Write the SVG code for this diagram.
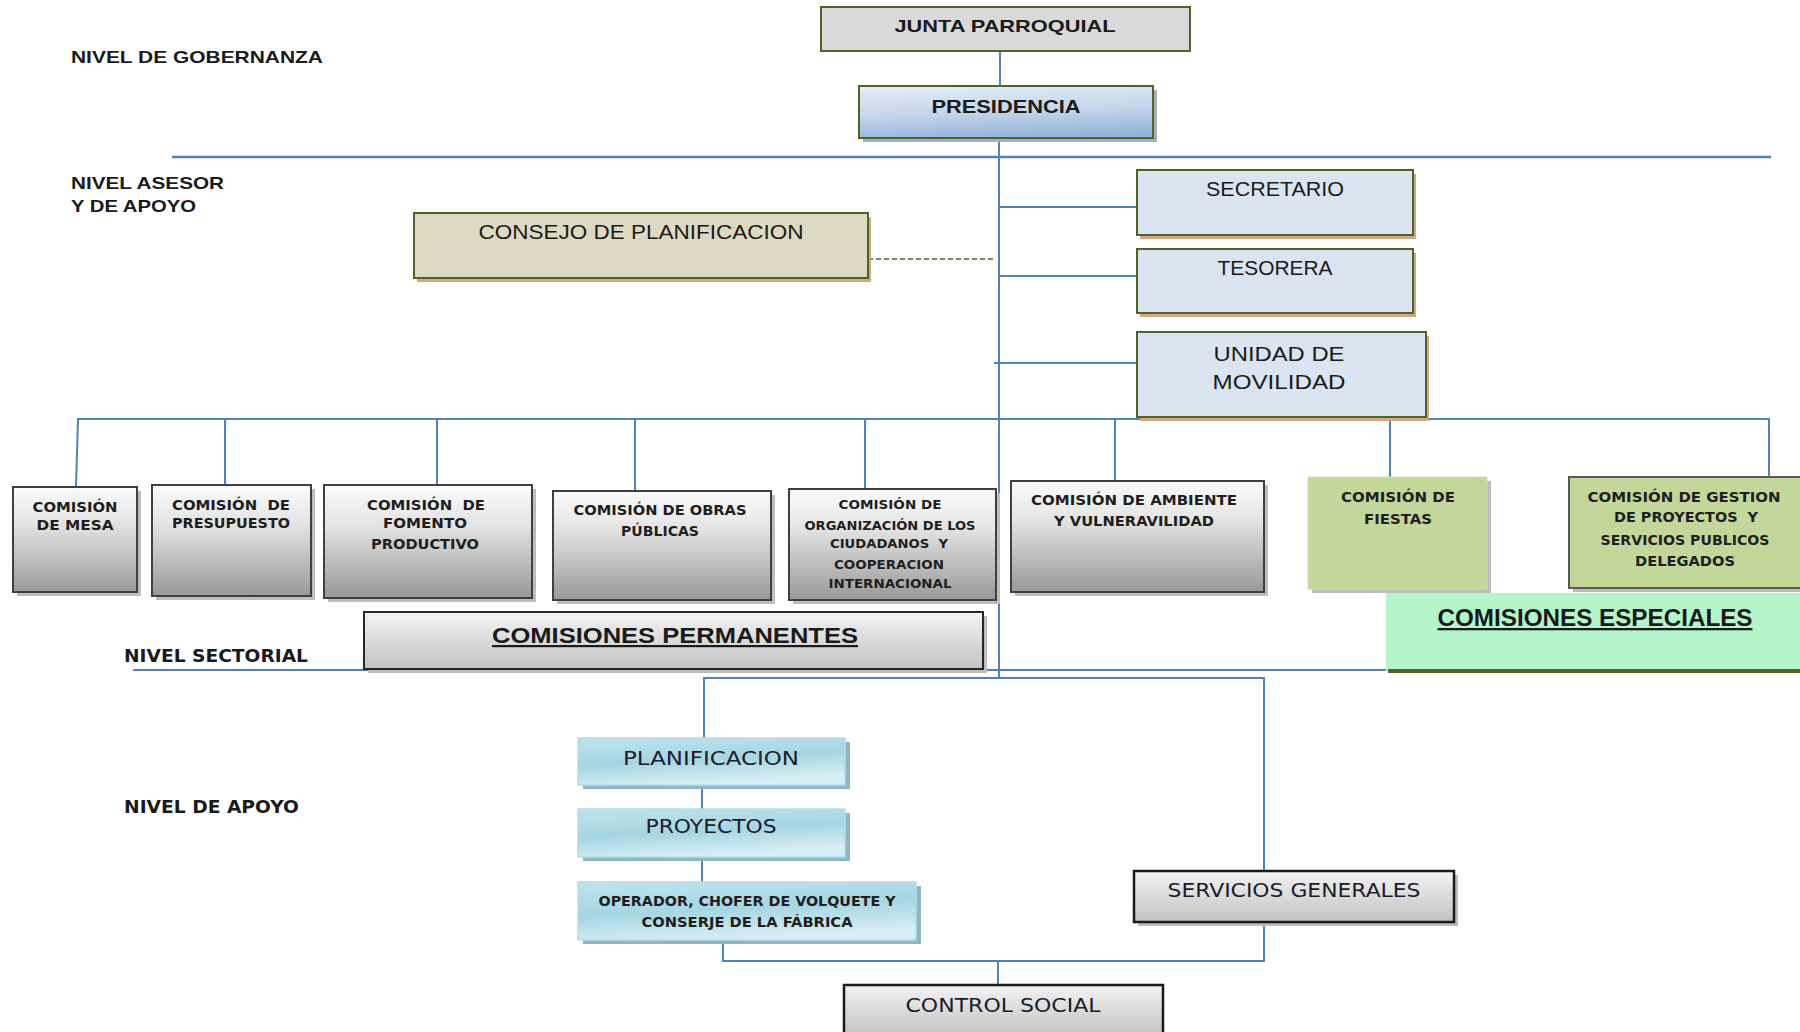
<svg xmlns="http://www.w3.org/2000/svg" width="1800" height="1032" viewBox="0 0 1800 1032">
<defs>
<linearGradient id="gGray" x1="0" y1="0" x2="0" y2="1"><stop offset="0" stop-color="#fbfbfb"/><stop offset="0.35" stop-color="#e4e4e4"/><stop offset="1" stop-color="#989898"/></linearGradient>
<linearGradient id="gLight" x1="0" y1="0" x2="0" y2="1"><stop offset="0" stop-color="#f4f4f4"/><stop offset="1" stop-color="#c2c2c2"/></linearGradient>
<linearGradient id="gPres" x1="0.3" y1="0" x2="0.5" y2="1"><stop offset="0" stop-color="#e3ebf6"/><stop offset="0.5" stop-color="#c4d6eb"/><stop offset="1" stop-color="#93b3d9"/></linearGradient>
<linearGradient id="gCyan" x1="0" y1="0" x2="0.3" y2="1"><stop offset="0" stop-color="#bfe3ec"/><stop offset="0.55" stop-color="#a6d6e3"/><stop offset="1" stop-color="#d6edf3"/></linearGradient>
<style>
.ln{fill:none;stroke:#4f81bd;stroke-width:2}
.dash{fill:none;stroke:#4f6228;stroke-width:1.5;stroke-dasharray:5 3}
.olive{stroke:#4f6228;stroke-width:2}
.gbox{fill:url(#gGray);stroke:#404040;stroke-width:2}
.shG{fill:#bdbdbd}
.shB{fill:#d2a784}
.shC{fill:#8fb6c3}
.lvl{font-family:"Liberation Sans",Arial,sans-serif;font-weight:bold;font-size:17px;fill:#1a1a1a}
.lvl2{font-family:"DejaVu Sans",Verdana,sans-serif;font-weight:bold;font-size:17px;fill:#1a1a1a}
.cal{font-family:"Liberation Sans",Arial,sans-serif;font-size:20px;fill:#1a1a1a;text-anchor:middle}
.calb{font-family:"Liberation Sans",Arial,sans-serif;font-weight:bold;fill:#1a1a1a;text-anchor:middle}
.sm{font-family:"DejaVu Sans",Verdana,sans-serif;font-weight:bold;font-size:14px;fill:#1e1e1e;text-anchor:middle;white-space:pre}
.xs{font-family:"DejaVu Sans",Verdana,sans-serif;font-weight:bold;font-size:11.5px;fill:#1e1e1e;text-anchor:middle;white-space:pre}
.ver{font-family:"DejaVu Sans",Verdana,sans-serif;font-size:20px;fill:#1e1a2e;text-anchor:middle}
</style>
</defs>
<rect width="1800" height="1032" fill="#ffffff"/>

<g id="labels">
<text class="lvl" x="71" y="63" textLength="252" lengthAdjust="spacingAndGlyphs">NIVEL DE GOBERNANZA</text>
<text class="lvl" x="71" y="189" textLength="153" lengthAdjust="spacingAndGlyphs">NIVEL ASESOR</text>
<text class="lvl" x="71" y="212" textLength="125" lengthAdjust="spacingAndGlyphs">Y DE APOYO</text>
<text class="lvl2" x="124" y="662" textLength="184" lengthAdjust="spacingAndGlyphs">NIVEL SECTORIAL</text>
<text class="lvl2" x="124" y="813" textLength="175" lengthAdjust="spacingAndGlyphs">NIVEL DE APOYO</text>
</g>

<g id="connectors">
<path class="ln" d="M1000 51 V86"/>
<path class="ln" d="M999 138 V678"/>
<path class="ln" d="M172 157 H1771" style="stroke-width:2.5"/>
<path class="ln" d="M999 207 H1137"/>
<path class="ln" d="M999 276 H1137"/>
<path class="ln" d="M994 363 H1137"/>
<path class="dash" d="M868 259 H996"/>
<path class="ln" d="M77 419 H1769 V477"/>
<path class="ln" d="M78 419 L76 487"/>
<path class="ln" d="M225 419 V485"/>
<path class="ln" d="M437 419 V485"/>
<path class="ln" d="M635 419 V491"/>
<path class="ln" d="M865 419 V489"/>
<path class="ln" d="M1115 419 V481"/>
<path class="ln" d="M1390 419 V477"/>
<path class="ln" d="M133 670 H1386"/>
<path class="ln" d="M704 738 V678 H1264 V871"/>
<path class="ln" d="M702 785 V809"/>
<path class="ln" d="M702 857 V882"/>
<path class="ln" d="M723 940 V961 H1264 V922"/>
<path class="ln" d="M998 961 V985"/>
</g>

<g id="junta">
<rect x="821" y="7" width="369" height="44" fill="#d9d9d9" class="olive"/>
<text class="calb" x="1005" y="32" font-size="17" textLength="221" lengthAdjust="spacingAndGlyphs">JUNTA PARROQUIAL</text>
</g>
<g id="presidencia">
<rect x="863" y="90" width="294" height="52" fill="#a3afc0"/>
<rect x="859" y="86" width="294" height="52" fill="url(#gPres)" class="olive"/>
<text class="calb" x="1006" y="113" font-size="19" textLength="149" lengthAdjust="spacingAndGlyphs">PRESIDENCIA</text>
</g>
<g id="consejo">
<rect x="417" y="217" width="454" height="65" class="shB"/>
<rect x="414" y="213" width="454" height="65" fill="#ddd9c3" class="olive"/>
<text class="cal" x="641" y="239" textLength="325" lengthAdjust="spacingAndGlyphs">CONSEJO DE PLANIFICACION</text>
</g>
<g id="secretario">
<rect x="1140" y="174" width="276" height="65" class="shB"/>
<rect x="1137" y="170" width="276" height="65" fill="#dbe5f1" class="olive"/>
<text class="cal" x="1275" y="196" textLength="138" lengthAdjust="spacingAndGlyphs">SECRETARIO</text>
</g>
<g id="tesorera">
<rect x="1140" y="253" width="276" height="64" class="shB"/>
<rect x="1137" y="249" width="276" height="64" fill="#dbe5f1" class="olive"/>
<text class="cal" x="1275" y="275" textLength="115" lengthAdjust="spacingAndGlyphs">TESORERA</text>
</g>
<g id="movilidad">
<rect x="1140" y="336" width="289" height="85" class="shB"/>
<rect x="1137" y="332" width="289" height="85" fill="#dbe5f1" class="olive"/>
<text class="cal" x="1279" y="361" textLength="131" lengthAdjust="spacingAndGlyphs">UNIDAD DE</text>
<text class="cal" x="1279" y="389" textLength="133" lengthAdjust="spacingAndGlyphs">MOVILIDAD</text>
</g>

<g id="c-mesa">
<rect x="17" y="491" width="124" height="105" class="shG"/>
<rect x="13" y="487" width="124" height="105" class="gbox"/>
<text class="sm" x="75" y="512" textLength="85" lengthAdjust="spacingAndGlyphs">COMISIÓN</text>
<text class="sm" x="75" y="530" textLength="77" lengthAdjust="spacingAndGlyphs">DE MESA</text>
</g>
<g id="c-presupuesto">
<rect x="156" y="489" width="159" height="111" class="shG"/>
<rect x="152" y="485" width="159" height="111" class="gbox"/>
<text class="sm" x="231" y="510" textLength="118" lengthAdjust="spacingAndGlyphs">COMISIÓN  DE</text>
<text class="sm" x="231" y="528" textLength="118" lengthAdjust="spacingAndGlyphs">PRESUPUESTO</text>
</g>
<g id="c-fomento">
<rect x="328" y="489" width="208" height="113" class="shG"/>
<rect x="324" y="485" width="208" height="113" class="gbox"/>
<text class="sm" x="426" y="510" textLength="118" lengthAdjust="spacingAndGlyphs">COMISIÓN  DE</text>
<text class="sm" x="425" y="528" textLength="84" lengthAdjust="spacingAndGlyphs">FOMENTO</text>
<text class="sm" x="425" y="549" textLength="108" lengthAdjust="spacingAndGlyphs">PRODUCTIVO</text>
</g>
<g id="c-obras">
<rect x="557" y="495" width="218" height="109" class="shG"/>
<rect x="553" y="491" width="218" height="109" class="gbox"/>
<text class="sm" x="660" y="515" textLength="173" lengthAdjust="spacingAndGlyphs">COMISIÓN DE OBRAS</text>
<text class="sm" x="660" y="536" textLength="78" lengthAdjust="spacingAndGlyphs">PÚBLICAS</text>
</g>
<g id="c-organizacion">
<rect x="793" y="493" width="207" height="111" class="shG"/>
<rect x="789" y="489" width="207" height="111" class="gbox"/>
<text class="xs" x="890" y="509" textLength="103" lengthAdjust="spacingAndGlyphs">COMISIÓN DE</text>
<text class="xs" x="890" y="530" textLength="171" lengthAdjust="spacingAndGlyphs">ORGANIZACIÓN DE LOS</text>
<text class="xs" x="889" y="548" textLength="118" lengthAdjust="spacingAndGlyphs">CIUDADANOS  Y</text>
<text class="xs" x="889" y="569" textLength="110" lengthAdjust="spacingAndGlyphs">COOPERACION</text>
<text class="xs" x="890" y="588" textLength="123" lengthAdjust="spacingAndGlyphs">INTERNACIONAL</text>
</g>
<g id="c-ambiente">
<rect x="1015" y="485" width="253" height="111" class="shG"/>
<rect x="1011" y="481" width="253" height="111" class="gbox"/>
<text class="sm" x="1134" y="505" textLength="206" lengthAdjust="spacingAndGlyphs">COMISIÓN DE AMBIENTE</text>
<text class="sm" x="1134" y="526" textLength="160" lengthAdjust="spacingAndGlyphs">Y VULNERAVILIDAD</text>
</g>
<g id="c-fiestas">
<rect x="1312" y="481" width="179" height="112" class="shG"/>
<rect x="1308" y="477" width="179" height="112" fill="#c4d79b" stroke="#cfdcb0" stroke-width="1"/>
<text class="sm" x="1398" y="502" textLength="114" lengthAdjust="spacingAndGlyphs">COMISIÓN DE</text>
<text class="sm" x="1398" y="524" textLength="68" lengthAdjust="spacingAndGlyphs">FIESTAS</text>
</g>
<g id="c-gestion">
<rect x="1573" y="481" width="240" height="111" class="shG"/>
<rect x="1569" y="477" width="240" height="111" fill="#c4d79b" stroke="#595959" stroke-width="2"/>
<text class="sm" x="1684" y="502" textLength="193" lengthAdjust="spacingAndGlyphs">COMISIÓN DE GESTION</text>
<text class="sm" x="1686" y="522" textLength="144" lengthAdjust="spacingAndGlyphs">DE PROYECTOS  Y</text>
<text class="sm" x="1685" y="545" textLength="169" lengthAdjust="spacingAndGlyphs">SERVICIOS PUBLICOS</text>
<text class="sm" x="1685" y="566" textLength="100" lengthAdjust="spacingAndGlyphs">DELEGADOS</text>
</g>

<g id="permanentes">
<rect x="368" y="616" width="619" height="57" class="shG"/>
<rect x="364" y="612" width="619" height="57" fill="url(#gLight)" stroke="#262626" stroke-width="2"/>
<text class="calb" x="675" y="643" font-size="22" text-decoration="underline" textLength="366" lengthAdjust="spacingAndGlyphs">COMISIONES PERMANENTES</text>
</g>
<g id="especiales">
<rect x="1386" y="593" width="420" height="78" fill="#b5f5cc"/>
<path d="M1388 671 H1800" stroke="#4f6228" stroke-width="4"/>
<text class="calb" x="1595" y="626" font-size="23" text-decoration="underline" textLength="315" lengthAdjust="spacingAndGlyphs">COMISIONES ESPECIALES</text>
</g>

<g id="planificacion">
<rect x="583" y="742" width="267" height="47" class="shC"/>
<rect x="578" y="738" width="267" height="47" fill="url(#gCyan)" stroke="#b6dde8" stroke-width="1.5"/>
<text class="ver" x="711" y="765" textLength="176" lengthAdjust="spacingAndGlyphs">PLANIFICACION</text>
</g>
<g id="proyectos">
<rect x="583" y="813" width="267" height="48" class="shC"/>
<rect x="578" y="809" width="267" height="48" fill="url(#gCyan)" stroke="#b6dde8" stroke-width="1.5"/>
<text class="ver" x="711" y="833" textLength="131" lengthAdjust="spacingAndGlyphs">PROYECTOS</text>
</g>
<g id="operador">
<rect x="583" y="886" width="338" height="58" class="shC"/>
<rect x="578" y="882" width="338" height="58" fill="url(#gCyan)" stroke="#b6dde8" stroke-width="1.5"/>
<text class="sm" x="747" y="906" font-size="13" textLength="297" lengthAdjust="spacingAndGlyphs">OPERADOR, CHOFER DE VOLQUETE Y</text>
<text class="sm" x="747" y="927" font-size="13" textLength="211" lengthAdjust="spacingAndGlyphs">CONSERJE DE LA FÁBRICA</text>
</g>
<g id="servicios">
<rect x="1138" y="875" width="320" height="51" class="shG"/>
<rect x="1134" y="871" width="320" height="51" fill="url(#gLight)" stroke="#1a1a1a" stroke-width="2.5"/>
<text class="ver" x="1294" y="897" textLength="253" lengthAdjust="spacingAndGlyphs">SERVICIOS GENERALES</text>
</g>
<g id="control">
<rect x="844" y="985" width="319" height="50" fill="url(#gLight)" stroke="#1a1a1a" stroke-width="2.5"/>
<text class="ver" x="1003" y="1012" textLength="195" lengthAdjust="spacingAndGlyphs">CONTROL SOCIAL</text>
</g>
</svg>
